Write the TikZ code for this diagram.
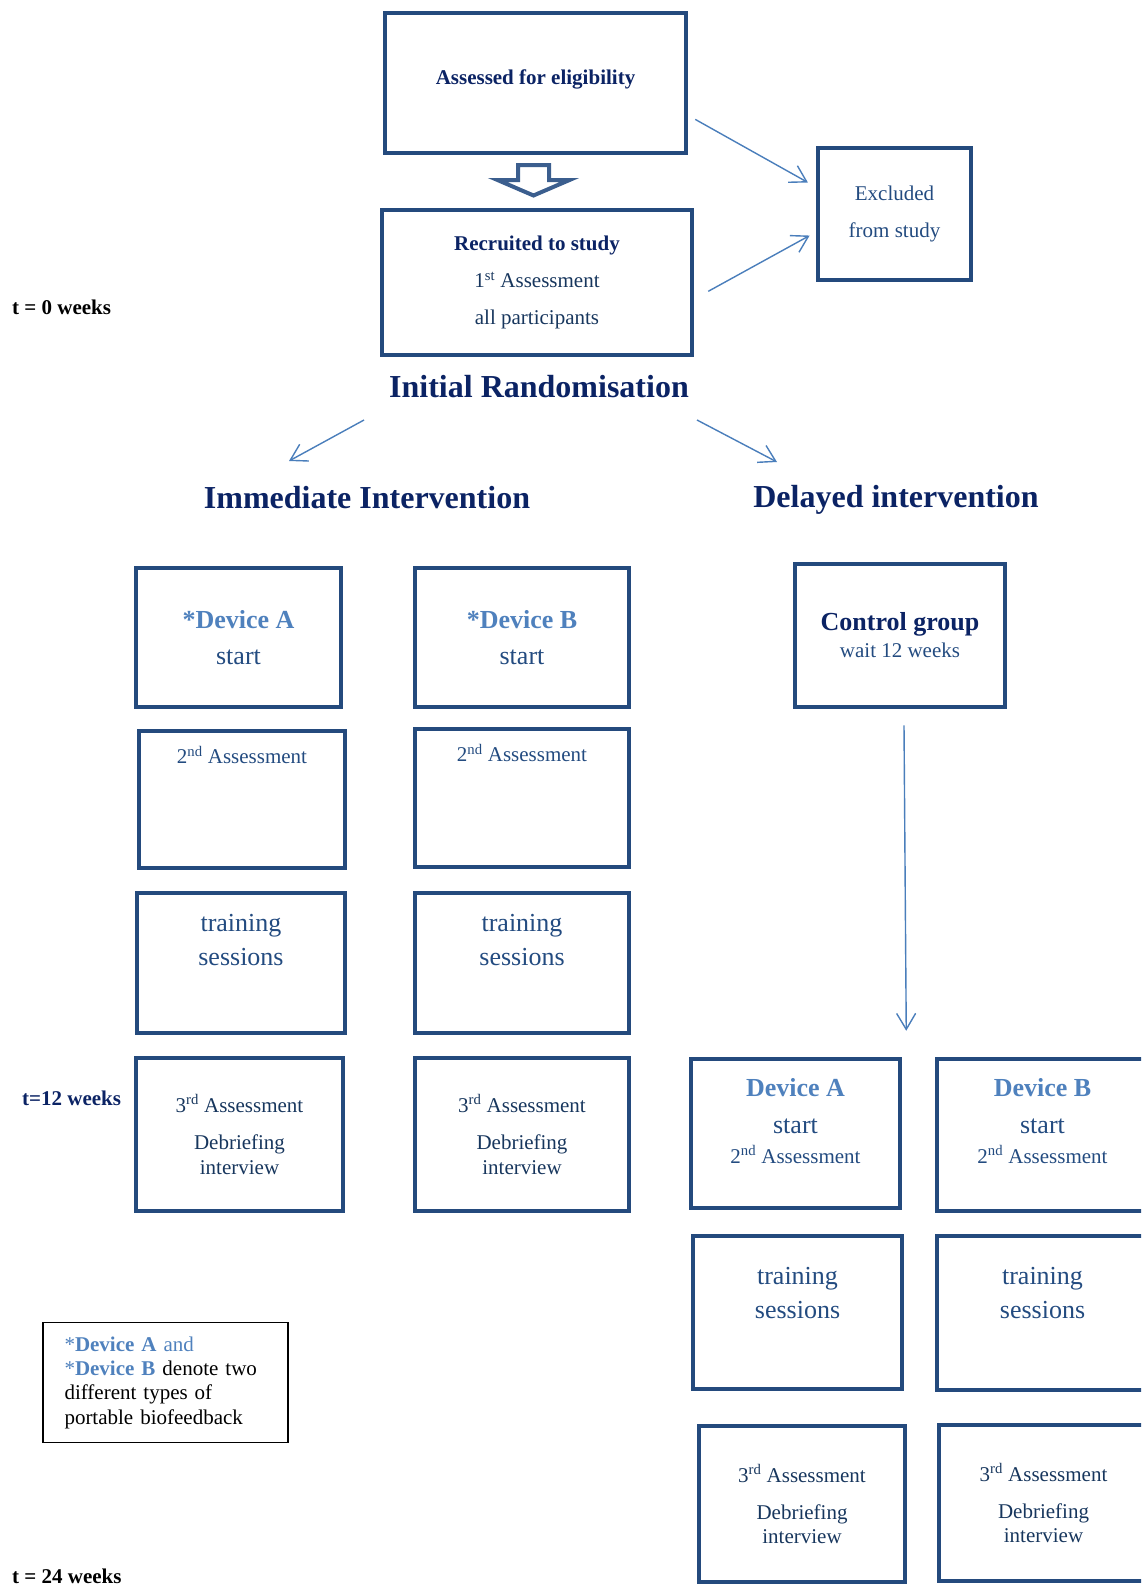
\documentclass[tikz,border=0pt]{standalone}
\usepackage{fontspec}
\setmainfont{Liberation Serif}
\usepackage{xcolor}
\usetikzlibrary{arrows.meta,positioning}
\definecolor{boxblue}{HTML}{244A7D}
\definecolor{titleblue}{HTML}{0B2364}
\definecolor{linkblue}{HTML}{4A7EBB}
\definecolor{devblue}{HTML}{4F81BD}
\definecolor{textblue}{HTML}{234B80}
\definecolor{deepblue}{HTML}{17365D}
\definecolor{hollowblue}{HTML}{3B5E8E}

\begin{document}
\begin{tikzpicture}[x=1pt,y=-1pt,
    box/.style={draw=boxblue, line width=4.5pt, align=center, inner sep=0pt},
    txt/.style={inner sep=0pt, align=center},
    arr/.style={draw=linkblue, line width=1.4pt, -{Straight Barb[length=16pt,width=19pt]}}]
  \useasboundingbox (0,0) rectangle (1141,1587);
  \clip (0,0) rectangle (1141,1587);

  \node[box, minimum width=301, minimum height=140, text depth=11pt, font=\bfseries\fontsize{21}{37}\selectfont, text=titleblue] (assess) at (535.5,83) {Assessed for eligibility};
  \node[box, minimum width=310, minimum height=145, font=\fontsize{21}{37}\selectfont, text=deepblue] (recruit) at (537,282.5)
    {\textcolor{titleblue}{\bfseries Recruited to study}\\1\textsuperscript{st} Assessment\\all participants};
  \node[box, minimum width=153, minimum height=132, font=\fontsize{21}{37.5}\selectfont, text=textblue] (excl) at (894.5,214) {Excluded\\from study};

  \draw[hollowblue, line width=4pt, line join=miter] (518,165) -- (549,165) -- (549,180) -- (569.5,180) -- (533.5,195.5) -- (497.5,180) -- (518,180) -- cycle;

  \draw[arr, shorten <=8pt, shorten >=9pt] (assess.-12) -- (excl.161.5);
  \draw[arr, shorten <=16pt, shorten >=7pt] (recruit.-6.8) -- (excl.-167.8);

  \node[txt, anchor=west, font=\bfseries\fontsize{21}{25}\selectfont] (t0) at (12,307) {t = 0 weeks};

  \node[txt, font=\bfseries\fontsize{32}{38}\selectfont, text=titleblue] (rand) at (539,387) {Initial Randomisation};
  \node[txt, font=\bfseries\fontsize{32}{38}\selectfont, text=titleblue] (immed) at (367,498) {Immediate Intervention};
  \node[txt, font=\bfseries\fontsize{32}{38}\selectfont, text=titleblue] (delay) at (896,500) {Delayed intervention};

  \draw[arr] ([shift={(-175,33)}]rand.center) -- ([shift={(-78,-37)}]immed.center);
  \draw[arr] ([shift={(158,33)}]rand.center) -- ([shift={(-119,-38)}]delay.center);

  \node[box, minimum width=205, minimum height=139, font=\fontsize{26}{36}\selectfont, text=textblue] (devA) at (238.5,637.5) {\textcolor{devblue}{\bfseries *Device A}\\start};
  \node[box, minimum width=214, minimum height=139, font=\fontsize{26}{36}\selectfont, text=textblue] (devB) at (522,637.5) {\textcolor{devblue}{\bfseries *Device B}\\start};
  \node[box, minimum width=210, minimum height=143, font=\fontsize{21}{27}\selectfont, text=textblue] (ctrl) at (900,635.5)
    {{\bfseries\fontsize{26}{27}\selectfont\color{titleblue}Control group}\\wait 12 weeks};

  \node[box, minimum width=206, minimum height=137] (asA) at (242,799.5) {};
  \node[txt, below=17pt of asA.north, font=\fontsize{21}{37}\selectfont, text=textblue] (asAtxt) {2\textsuperscript{nd} Assessment};
  \node[box, minimum width=214, minimum height=138] (asB) at (522,798) {};
  \node[txt, below=17pt of asB.north, font=\fontsize{21}{37}\selectfont, text=textblue] (asBtxt) {2\textsuperscript{nd} Assessment};

  \node[box, minimum width=208, minimum height=140] (trA) at (241,963) {};
  \node[txt, below=23pt of trA.north, font=\fontsize{26}{34.5}\selectfont, text=textblue] (trAtxt) {training\\sessions};
  \node[box, minimum width=214, minimum height=140] (trB) at (522,963) {};
  \node[txt, below=23pt of trB.north, font=\fontsize{26}{34.5}\selectfont, text=textblue] (trBtxt) {training\\sessions};

  \node[txt, anchor=west, font=\bfseries\fontsize{21}{25}\selectfont, text=titleblue] (t12) at (22,1098) {t=12 weeks};

  \node[box, minimum width=207, minimum height=153, font=\fontsize{21}{24.5}\selectfont, text=deepblue] (thA) at (239.5,1134.5)
    {3\textsuperscript{rd} Assessment\\[12.5pt]Debriefing\\interview};
  \node[box, minimum width=214, minimum height=153, font=\fontsize{21}{24.5}\selectfont, text=deepblue] (thB) at (522,1134.5)
    {3\textsuperscript{rd} Assessment\\[12.5pt]Debriefing\\interview};

  \node[box, minimum width=209, minimum height=149] (dlA) at (795.5,1133.5) {};
  \node[txt, below=21pt of dlA.north, font=\fontsize{26}{37}\selectfont, text=textblue] (dlAtxt)
    {\textcolor{devblue}{\bfseries Device A}\\start\\[-7pt]{\fontsize{21}{31}\selectfont 2\textsuperscript{nd} Assessment}};
  \node[box, minimum width=211, minimum height=152] (dlB) at (1042.5,1135) {};
  \node[txt, below=21pt of dlB.north, font=\fontsize{26}{37}\selectfont, text=textblue] (dlBtxt)
    {\textcolor{devblue}{\bfseries Device B}\\start\\[-7pt]{\fontsize{21}{31}\selectfont 2\textsuperscript{nd} Assessment}};

  \draw[arr] ([xshift=4pt,yshift=-16pt]ctrl.south) -- ([xshift=4pt,yshift=26pt]dlA.north east);

  \node[box, minimum width=209, minimum height=153] (dtrA) at (797.5,1312.5) {};
  \node[txt, below=33pt of dtrA.north, font=\fontsize{26}{34.5}\selectfont, text=textblue] (dtrAtxt) {training\\sessions};
  \node[box, minimum width=211, minimum height=154] (dtrB) at (1042.5,1313) {};
  \node[txt, below=33pt of dtrB.north, font=\fontsize{26}{34.5}\selectfont, text=textblue] (dtrBtxt) {training\\sessions};

  \node[box, minimum width=206, minimum height=156, font=\fontsize{21}{24.5}\selectfont, text=deepblue] (dthA) at (802,1504)
    {3\textsuperscript{rd} Assessment\\[12.5pt]Debriefing\\interview};
  \node[box, minimum width=209, minimum height=156, font=\fontsize{21}{24.5}\selectfont, text=deepblue] (dthB) at (1043.5,1503)
    {3\textsuperscript{rd} Assessment\\[12.5pt]Debriefing\\interview};

  \node[draw=black, line width=1.5pt, minimum width=245, minimum height=120, text width=202, inner xsep=19pt, align=left,
    font=\fontsize{21}{24.3}\selectfont] (legend) at (165.5,1382.5)
    {\textcolor{devblue}{*\textbf{Device A} and}\\\textcolor{devblue}{*\textbf{Device B}} denote two\\different types of\\portable biofeedback};

  \node[txt, anchor=west, font=\bfseries\fontsize{21}{25}\selectfont] (t24) at (12,1576) {t = 24 weeks};
\end{tikzpicture}
\end{document}
